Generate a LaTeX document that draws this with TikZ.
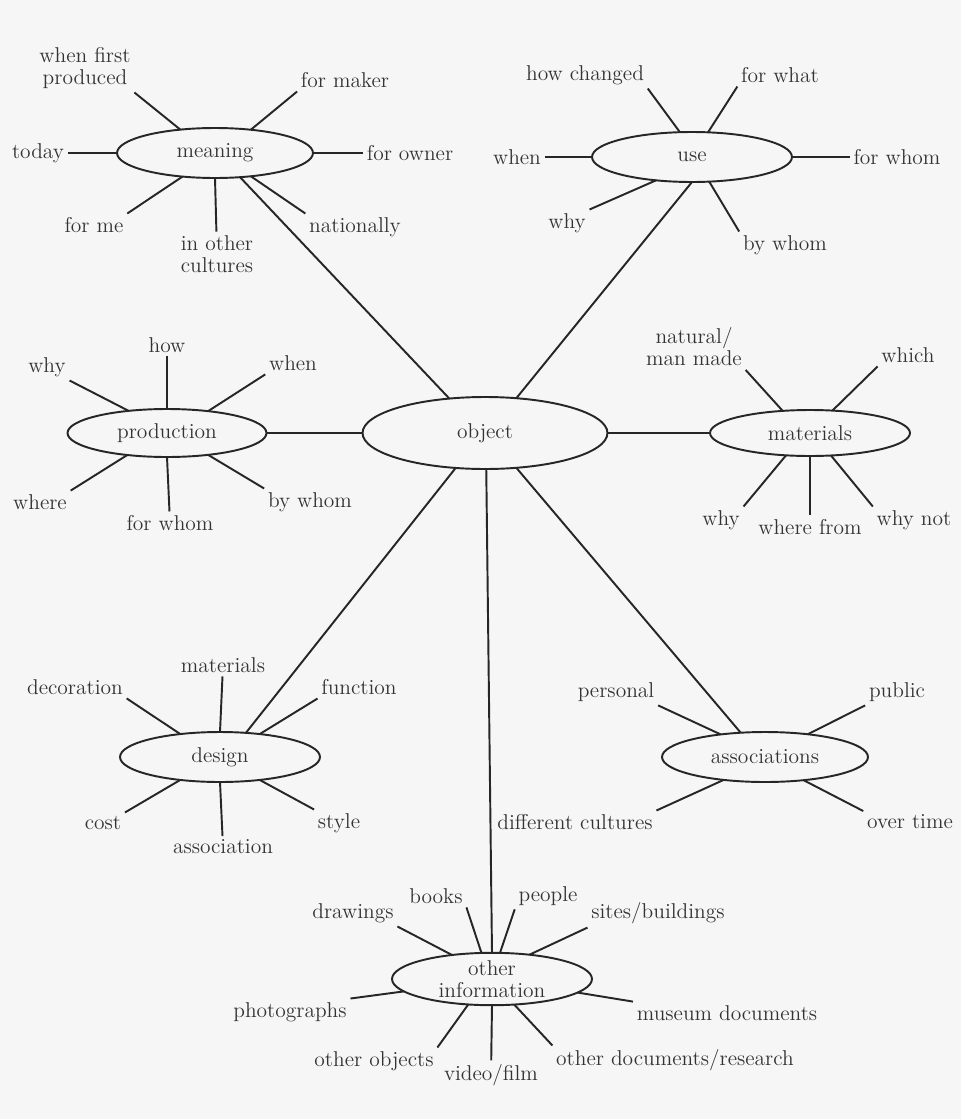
\documentclass[tikz,border=0pt]{standalone}
\usetikzlibrary{shapes.geometric}
\tikzstyle{topic} = [ellipse,draw=black!85,line width=1.1pt,inner sep=0pt,outer sep=0pt,text=black!80,align=center]
\tikzstyle{leaf} = [inner sep=2pt,text=black!80,align=center]
\tikzstyle{spoke} = [line width=1.1pt,draw=black!85]

\begin{document}
\begin{tikzpicture}[x=0.02cm,y=-0.02cm,font=\fontsize{12.2}{12.5}\selectfont]

	% page
	\fill[gray!7] (0,0) rectangle (961,1119);
	\useasboundingbox (0,0) rectangle (961,1119);

	% centre and topics
	\node[topic,minimum width=4.9cm,minimum height=1.44cm] (object) at (485,433) {object};
	\node[topic,minimum width=3.92cm,minimum height=1cm] (meaning) at (215,153) {meaning};
	\node[topic,minimum width=4cm,minimum height=1cm] (use) at (692,157) {use};
	\node[topic,minimum width=3.98cm,minimum height=0.96cm] (prod) at (167,433) {production};
	\node[topic,minimum width=4cm,minimum height=0.92cm] (mat) at (810,433) {materials};
	\node[topic,minimum width=4cm,minimum height=1cm] (design) at (220,757) {design};
	\node[topic,minimum width=4.12cm,minimum height=1cm] (assoc) at (765,757) {associations};
	\node[topic,minimum width=4cm,minimum height=1.04cm] (info) at (492,979) {other\\information};

	% meaning
	\node[leaf] (mFirst) at (85,68) {when first\\produced};
	\node[leaf] (mMaker) at (345,80) {for maker};
	\node[leaf] (mToday) at (38,153) {today};
	\node[leaf] (mOwner) at (410,153) {for owner};
	\node[leaf] (mMe) at (94,225) {for me};
	\node[leaf] (mCult) at (217,254) {in other\\cultures};
	\node[leaf] (mNat) at (355,227) {nationally};

	% use
	\node[leaf] (uChanged) at (585,75) {how changed};
	\node[leaf] (uWhat) at (780,75) {for what};
	\node[leaf] (uWhen) at (517,157) {when};
	\node[leaf] (uWhom) at (897,157) {for whom};
	\node[leaf] (uWhy) at (567,223) {why};
	\node[leaf] (uBy) at (785,245) {by whom};

	% production
	\node[leaf] (pHow) at (167,345) {how};
	\node[leaf] (pWhy) at (47,367) {why};
	\node[leaf] (pWhen) at (293,363) {when};
	\node[leaf] (pWhere) at (40,502) {where};
	\node[leaf] (pFor) at (170,523) {for whom};
	\node[leaf] (pBy) at (310,502) {by whom};

	% materials
	\node[leaf] (tNat) at (694,347) {natural/\\man made};
	\node[leaf] (tWhich) at (908,355) {which};
	\node[leaf] (tWhy) at (721,520) {why};
	\node[leaf] (tFrom) at (810,527) {where from};
	\node[leaf] (tNot) at (914,520) {why not};

	% design
	\node[leaf] (dMat) at (223,665) {materials};
	\node[leaf] (dDeco) at (75,687) {decoration};
	\node[leaf] (dFunc) at (359,687) {function};
	\node[leaf] (dCost) at (103,823) {cost};
	\node[leaf] (dAssoc) at (223,847) {association};
	\node[leaf] (dStyle) at (339,823) {style};

	% associations
	\node[leaf] (aPers) at (616,692) {personal};
	\node[leaf] (aPub) at (897,692) {public};
	\node[leaf] (aDiff) at (575,822) {different cultures};
	\node[leaf] (aTime) at (910,822) {over time};

	% other information
	\node[leaf] (iBooks) at (436,896) {books};
	\node[leaf] (iPeople) at (548,896) {people};
	\node[leaf] (iDraw) at (353,913) {drawings};
	\node[leaf] (iSites) at (658,913) {sites/buildings};
	\node[leaf] (iPhoto) at (290,1012) {photographs};
	\node[leaf] (iMuseum) at (727,1013) {museum documents};
	\node[leaf] (iObj) at (374,1061) {other objects};
	\node[leaf] (iVideo) at (491,1075) {video/film};
	\node[leaf] (iDocs) at (675,1060) {other documents/research};

	% main spokes
	\foreach \a/\b in {object.136/meaning.316,object.48/use.270,object.180/prod.0,
		object.0/mat.180,object.230/design.43,object.272/info.90,object.312/assoc.135}
		\draw[spoke] (\a) -- (\b);

	% small spokes
	\foreach \a/\b in {meaning.146/mFirst.south east,meaning.33/mMaker.south west,
		meaning.180/mToday,meaning.0/mOwner,meaning.216/mMe.north east,
		meaning.270/mCult,meaning.327/mNat.north west,
		use.116/uChanged.south east,use.57/uWhat.south west,use.180/uWhen,
		use.0/uWhom,use.213/uWhy.north east,use.305/uBy.north west,
		prod.90/pHow,prod.150/pWhy.south east,prod.28/pWhen.south west,
		prod.209/pWhere.north east,prod.270/pFor,prod.332/pBy.north west,
		mat.141/tNat.south east,mat.45/tWhich.south west,mat.223/tWhy.north east,
		mat.270/tFrom,mat.313/tNot.north west,
		design.90/dMat,design.150/dDeco.south east,design.30/dFunc.south west,
		design.210/dCost.north east,design.270/dAssoc,design.330/dStyle.north west,
		assoc.153/aPers.south east,assoc.28/aPub.south west,
		assoc.209/aDiff.north east,assoc.329/aTime.north west,
		info.112/iBooks.south east,info.73/iPeople.south west,
		info.149/iDraw.south east,info.33/iSites.south west,
		info.188/iPhoto.north east,info.351/iMuseum.north west,
		info.227/iObj.north east,info.270/iVideo,info.311/iDocs.north west}
		\draw[spoke] (\a) -- (\b);

\end{tikzpicture}
\end{document}
